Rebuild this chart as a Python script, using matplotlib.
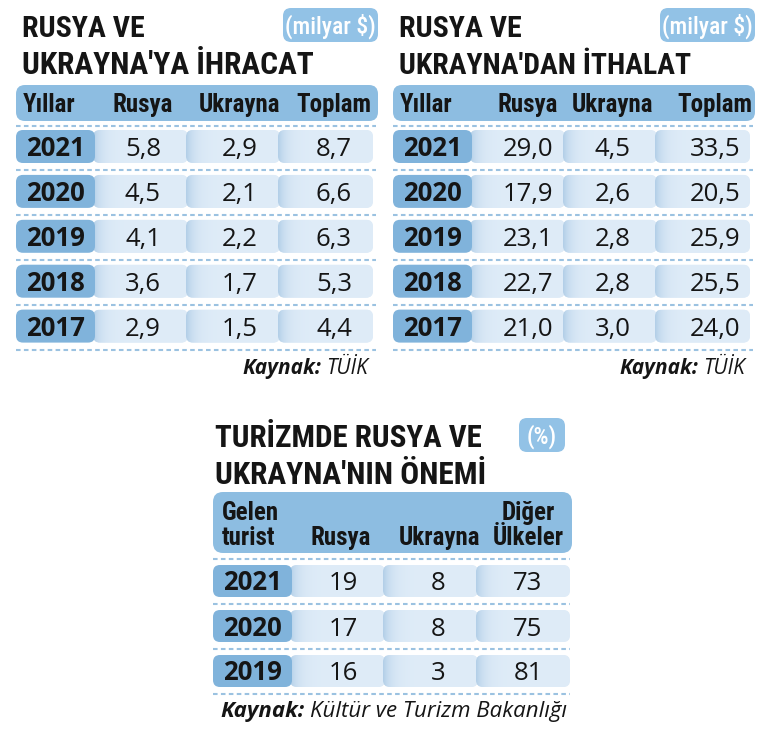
import numpy as np
import matplotlib
matplotlib.use("Agg")
import matplotlib.pyplot as plt
from matplotlib.patches import FancyBboxPatch
from matplotlib.colors import to_rgb

# ---------------- data ----------------
exp_years = ['2021', '2020', '2019', '2018', '2017']
exp_rusya = [5.8, 4.5, 4.1, 3.6, 2.9]
exp_ukrayna = [2.9, 2.1, 2.2, 1.7, 1.5]
exp_toplam = [8.7, 6.6, 6.3, 5.3, 4.4]

imp_years = ['2021', '2020', '2019', '2018', '2017']
imp_rusya = [29.0, 17.9, 23.1, 22.7, 21.0]
imp_ukrayna = [4.5, 2.6, 2.8, 2.8, 3.0]
imp_toplam = [33.5, 20.5, 25.9, 25.5, 24.0]

tur_years = ['2021', '2020', '2019']
tur_rusya = [19, 17, 16]
tur_ukrayna = [8, 8, 3]
tur_diger = [73, 75, 81]

trade_headers = ['Yıllar', 'Rusya', 'Ukrayna', 'Toplam']
tur_headers = ['Gelen\nturist', 'Rusya', 'Ukrayna', 'Diğer\nÜlkeler']

exp_title = ['RUSYA VE', "UKRAYNA'YA İHRACAT"]
imp_title = ['RUSYA VE', "UKRAYNA'DAN İTHALAT"]
tur_title = ['TURİZMDE RUSYA VE', "UKRAYNA'NIN ÖNEMİ"]
trade_unit = '(milyar $)'
tur_unit = '(%)'
trade_source = ('Kaynak:', 'TÜİK')
tur_source = ('Kaynak:', 'Kültür ve Turizm Bakanlığı')

# ---------------- style ----------------
COND = ['Liberation Sans Narrow', 'Roboto Condensed', 'DejaVu Sans Condensed', 'Liberation Sans', 'DejaVu Sans']
NUM = ['Open Sans', 'Noto Sans', 'DejaVu Sans']
HEADER_C = '#8dbde1'
YEAR_C = '#80b3db'
CELL_C = '#dfecf8'
SHADE_C = '#b3cfe8'
DASH_C = '#9bc2e1'
BADGE_C = '#92c2e6'
TXT = '#151515'

W, H = 765, 735
fig = plt.figure(figsize=(W / 100, H / 100), dpi=100)
ax = fig.add_axes([0, 0, 1, 1])
ax.set_xlim(0, W)
ax.set_ylim(H, 0)
ax.axis('off')
fig.patch.set_facecolor('white')
renderer = fig.canvas.get_renderer()


def fit_width(t, target):
    w = t.get_window_extent(renderer).width
    if w > target:
        t.set_fontsize(t.get_fontsize() * target / w)


def rbox(x0, y0, w, h, color, r=6, z=1):
    p = FancyBboxPatch((x0, y0), w, h, boxstyle=f"round,pad=0,rounding_size={r}",
                       fc=color, ec='none', zorder=z)
    ax.add_patch(p)
    return p


def shaded_cell(x0, x1, y0, y1):
    p = rbox(x0, y0, x1 - x0, y1 - y0, CELL_C, r=7, z=1)
    n = int(x1 - x0)
    d = np.arange(n)
    a = np.exp(-d / 8.0)[None, :, None]
    c0 = np.array(to_rgb(SHADE_C))[None, None, :]
    c1 = np.array(to_rgb(CELL_C))[None, None, :]
    img = c1 + (c0 - c1) * a
    img = np.repeat(img, 2, axis=0)
    im = ax.imshow(img, extent=[x0, x1, y1, y0], aspect='auto', zorder=1.5,
                   interpolation='bilinear')
    im.set_clip_path(p)


def dashed(x0, x1, y):
    ax.plot([x0, x1], [y, y], color=DASH_C, lw=1.5, ls=(0, (2.2, 1.6)), zorder=2,
            solid_capstyle='butt')


def title_block(x, lines, baselines, widths, badge_box, badge_text, badge_fs):
    for s, yb, tw in zip(lines, baselines, widths):
        t = ax.text(x, yb, s, family=COND, weight='bold', fontsize=26, color=TXT,
                    ha='left', va='baseline', zorder=3)
        fit_width(t, tw)
    bx0, by0, bx1, by1 = badge_box
    rbox(bx0, by0, bx1 - bx0, by1 - by0, BADGE_C, r=8, z=2)
    ax.text((bx0 + bx1) / 2, (by0 + by1) / 2 + 1.5, badge_text, family=COND,
            weight='medium', fontsize=badge_fs, color='white', ha='center',
            va='center', zorder=3)


def source(xr, yb, parts, fs):
    t2 = ax.text(xr, yb, parts[1], family=NUM, style='italic', fontsize=fs,
                 color=TXT, ha='right', va='baseline', zorder=3)
    w = t2.get_window_extent(renderer).width
    ax.text(xr - w - 5, yb, parts[0], family=NUM, style='italic', weight='bold',
            fontsize=fs, color=TXT, ha='right', va='baseline', zorder=3)


def fmt1(v):
    return f"{v:.1f}".replace('.', ',')


def trade_table(x0, years, cols, title, val_x):
    title_block(x0 + 6, title, [37, 74], [123, 292],
                (x0 + 267, 8, x0 + 362, 42), trade_unit, 17)
    width = 362
    rbox(x0, 85, width, 36, HEADER_C, r=9, z=1)
    hx = [x0 + 33, val_x[0], val_x[1], val_x[2]]
    for s, xx in zip(trade_headers, hx):
        ax.text(xx, 112, s, family=COND, weight='bold', fontsize=18, color=TXT,
                ha='center', va='baseline', zorder=3)
    dashed(x0, x0 + width - 2, 125.5)
    cell_edges = [x0 + 79, x0 + 172, x0 + 264, x0 + 357]
    for i, yr in enumerate(years):
        y0 = 130 + i * 44.9
        y1 = y0 + 33
        for k in range(3):
            shaded_cell(cell_edges[k] - 2, cell_edges[k + 1], y0, y1)
        rbox(x0, y0, 79, 33, YEAR_C, r=7, z=2)
        yc = (y0 + y1) / 2
        ax.text(x0 + 39.5, yc + 9.5, yr, family=NUM, weight='bold', fontsize=18.5,
                color=TXT, ha='center', va='baseline', zorder=3)
        for k in range(3):
            ax.text(val_x[k], yc + 9.5, fmt1(cols[k][i]), family=NUM, fontsize=18.5,
                    color=TXT, ha='center', va='baseline', zorder=3)
        dashed(x0, x0 + width - 2, y1 + 7)
    source(x0 + 352, 374, trade_source, 15)


trade_table(16, exp_years, [exp_rusya, exp_ukrayna, exp_toplam], exp_title,
            [143, 240, 334])
trade_table(393, imp_years, [imp_rusya, imp_ukrayna, imp_toplam], imp_title,
            [528, 613, 715])

# ---------------- tourism table ----------------
tx0 = 213
title_block(tx0 + 2, tur_title, [447, 484], [268, 272],
            (519, 418, 565, 452), tur_unit, 17)
twidth = 359
rbox(tx0, 492, twidth, 61, HEADER_C, r=10, z=1)
ax.text(tx0 + 9, 545, tur_headers[0], family=COND, weight='bold', fontsize=18,
        color=TXT, ha='left', va='baseline', linespacing=1.05, zorder=3)
ax.text(341, 545, tur_headers[1], family=COND, weight='bold', fontsize=18,
        color=TXT, ha='center', va='baseline', zorder=3)
ax.text(440, 545, tur_headers[2], family=COND, weight='bold', fontsize=18,
        color=TXT, ha='center', va='baseline', zorder=3)
ax.text(528, 545, tur_headers[3], family=COND, weight='bold', fontsize=18,
        color=TXT, ha='center', va='baseline', multialignment='center',
        linespacing=1.05, zorder=3)
dashed(tx0, tx0 + twidth - 2, 559)
tcell_edges = [tx0 + 79, 385, 478, 570]
tval_x = [343, 438, 528]
tcols = [tur_rusya, tur_ukrayna, tur_diger]
for i, yr in enumerate(tur_years):
    y0 = 565 + i * 45
    y1 = y0 + 32
    for k in range(3):
        shaded_cell(tcell_edges[k] - 2, tcell_edges[k + 1], y0, y1)
    rbox(tx0, y0, 79, 32, YEAR_C, r=7, z=2)
    yc = (y0 + y1) / 2
    ax.text(tx0 + 39.5, yc + 9.5, yr, family=NUM, weight='bold', fontsize=18.5,
            color=TXT, ha='center', va='baseline', zorder=3)
    for k in range(3):
        ax.text(tval_x[k], yc + 9.5, str(tcols[k][i]), family=NUM, fontsize=18.5,
                color=TXT, ha='center', va='baseline', zorder=3)
    dashed(tx0, tx0 + twidth - 2, y1 + 6.5)
source(567, 717, tur_source, 16)

fig.savefig('out.png', dpi=100, facecolor='white')
